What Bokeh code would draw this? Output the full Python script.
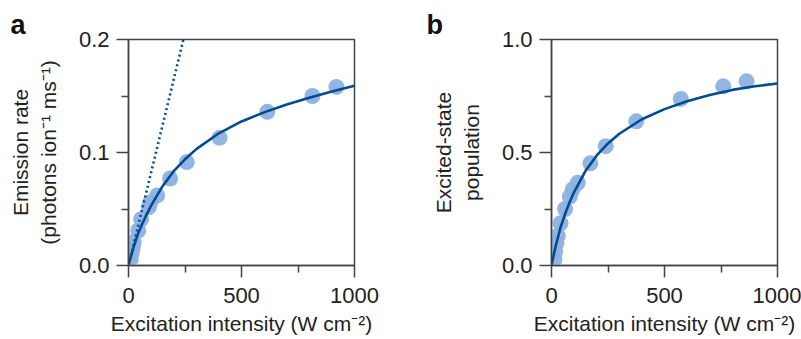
from bokeh.plotting import figure
from bokeh.layouts import row
from bokeh.models import FixedTicker, PrintfTickFormatter, Range1d
from bokeh.embed import file_html
from bokeh.resources import INLINE

# ---- Panel a data ----
a_x = [10, 14, 19, 23, 43, 56, 90, 97, 127, 184, 258, 403, 614, 814, 920]
a_y = [0.0055, 0.011, 0.016, 0.0206, 0.031, 0.041, 0.0516, 0.056, 0.062, 0.077, 0.0915, 0.113, 0.136, 0.150, 0.158]
a_fit_x = [0, 10, 20, 40, 60, 80, 100, 150, 200, 250, 300, 400, 500, 600, 700, 800, 900, 1000]
a_fit_y = [0, 0.0075, 0.0145, 0.027, 0.0365, 0.0450, 0.0530, 0.0700, 0.0835, 0.0940, 0.1030, 0.1170, 0.1275, 0.1355, 0.1425, 0.1485, 0.1540, 0.1590]
a_lin_x = [0, 243]
a_lin_y = [0, 0.2]

# ---- Panel b data ----
b_x = [13, 16, 22, 28, 40, 60, 81, 94, 116, 172, 240, 375, 572, 760, 863]
b_y = [0.025, 0.062, 0.099, 0.131, 0.187, 0.250, 0.305, 0.337, 0.366, 0.452, 0.528, 0.638, 0.737, 0.793, 0.815]
b_fit_x = [0, 10, 20, 40, 60, 80, 100, 150, 200, 250, 300, 400, 500, 600, 700, 800, 900, 1000]
b_fit_y = [0, 0.048, 0.092, 0.168, 0.228, 0.280, 0.325, 0.418, 0.487, 0.540, 0.583, 0.647, 0.692, 0.727, 0.754, 0.777, 0.793, 0.805]

x_ticks = [0, 500, 1000]
x_minor = [250, 750]
a_ticks = [0.0, 0.1, 0.2]
a_minor = [0.05, 0.15]
b_ticks = [0.0, 0.5, 1.0]
b_minor = [0.25, 0.75]

LINE = "#004b91"
PTS = "#8db1df"
AX = "#444444"
TXT = "#222222"
FONT = "Liberation Sans"


def make_panel(letter, xs, ys, fx, fy, yticks, yminor, ymax, ylabel, left, right, letter_x):
    p = figure(width=left + 226 + right, height=339, output_backend="svg",
               toolbar_location=None, x_range=Range1d(0, 1000), y_range=Range1d(0, ymax),
               min_border_left=left, min_border_right=right, min_border_top=39, min_border_bottom=74,
               title=letter)
    p.title.align = "left"
    p.title.offset = -(left - letter_x)
    p.title.text_font = FONT
    p.title.text_font_size = "27px"
    p.title.text_font_style = "bold"
    p.title.text_color = "#111111"
    p.title.standoff = 0
    p.grid.visible = False
    p.outline_line_color = AX
    p.outline_line_width = 1.5
    p.background_fill_color = "white"
    p.border_fill_color = "white"
    p.scatter(xs, ys, size=16, color=PTS, line_color=None, alpha=0.95)
    p.line(fx, fy, line_color=LINE, line_width=2.6)
    p.xaxis.ticker = FixedTicker(ticks=x_ticks, minor_ticks=x_minor)
    p.yaxis.ticker = FixedTicker(ticks=yticks, minor_ticks=yminor)
    p.yaxis.formatter = PrintfTickFormatter(format="%.1f")
    for ax in (p.xaxis, p.yaxis):
        ax.axis_line_color = AX
        ax.axis_line_width = 1.5
        ax.major_tick_line_color = AX
        ax.minor_tick_line_color = AX
        ax.major_tick_line_width = 1.5
        ax.minor_tick_line_width = 1.5
        ax.major_tick_out = 12
        ax.major_tick_in = 0
        ax.minor_tick_out = 7
        ax.minor_tick_in = 0
        ax.major_label_text_font = FONT
        ax.major_label_text_font_size = "22px"
        ax.major_label_text_color = TXT
        ax.axis_label_text_font = FONT
        ax.axis_label_text_font_size = "21px"
        ax.axis_label_text_font_style = "normal"
        ax.axis_label_text_color = TXT
    p.xaxis.axis_label = "Excitation intensity (W cm\u207b\u00b2)"
    p.xaxis.major_label_standoff = 10
    p.xaxis.axis_label_standoff = 6
    p.yaxis.axis_label = ylabel
    p.yaxis.major_label_standoff = 7
    p.yaxis.axis_label_standoff = 16
    return p


pa = make_panel("a", a_x, a_y, a_fit_x, a_fit_y, a_ticks, a_minor, 0.2,
                "Emission rate\n(photons ion\u207b\u00b9 ms\u207b\u00b9)", 128, 46, 10)
pa.line(a_lin_x, a_lin_y, line_color=LINE, line_width=2.6, line_dash="2 3")

pb = make_panel("b", b_x, b_y, b_fit_x, b_fit_y, b_ticks, b_minor, 1.0,
                "Excited-state\npopulation", 151, 24, 26)

layout = row(pa, pb)
open("out.html", "w").write(file_html(layout, INLINE))
